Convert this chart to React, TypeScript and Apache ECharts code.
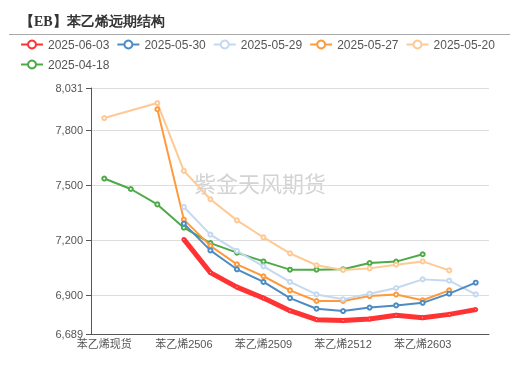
import React, { useEffect, useRef } from "react";
import * as echarts from "echarts";

const categories = [
  "苯乙烯现货", "苯乙烯2504", "苯乙烯2505", "苯乙烯2506", "苯乙烯2507", "苯乙烯2508",
  "苯乙烯2509", "苯乙烯2510", "苯乙烯2511", "苯乙烯2512", "苯乙烯2601", "苯乙烯2602",
  "苯乙烯2603", "苯乙烯2604", "苯乙烯2605",
];

const seriesNames = ["2025-06-03", "2025-05-30", "2025-05-29", "2025-05-27", "2025-05-20", "2025-04-18"];

const d0603 = [null, null, null, 7205, 7024, 6945, 6885, 6816, 6767, 6762, 6771, 6791, 6778, 6796, 6822];
const d0530 = [null, null, null, 7291, 7145, 7042, 6973, 6885, 6827, 6814, 6833, 6845, 6859, 6909, 6969];
const d0529 = [null, null, null, 7382, 7231, 7142, 7058, 6973, 6905, 6878, 6909, 6940, 6987, 6980, 6905];
const d0527 = [null, null, 7915, 7313, 7170, 7069, 7004, 6927, 6869, 6869, 6896, 6904, 6873, 6927, null];
const d0520 = [7867, null, 7949, 7579, 7424, 7309, 7216, 7129, 7064, 7038, 7047, 7067, 7085, 7036, null];
const d0418 = [7537, 7480, 7396, 7269, 7185, 7133, 7085, 7040, 7040, 7042, 7076, 7084, 7124, null, null];

const seriesData = [d0603, d0530, d0529, d0527, d0520, d0418];
const colors = ["#FF3333", "#4C8BC4", "#C4D8F0", "#FF9A3C", "#FFC994", "#4DAA48"];
const lineWidths = [5, 2, 2, 2, 2, 2];

const yMin = 6689;
const yMax = 8031;

const sans = "'Liberation Sans', 'Noto Sans CJK SC', sans-serif";

export default function App() {
  const ref = useRef<HTMLDivElement>(null);
  useEffect(() => {
    if (!ref.current) return;
    const chart = echarts.init(ref.current, null, { renderer: "svg" });
    const series = seriesNames.map((name, i) => ({
      name,
      type: "line",
      data: seriesData[i],
      connectNulls: true,
      symbol: "emptyCircle",
      symbolSize: i === 0 ? 3 : 4,
      z: i === 0 ? 10 : 2 + (5 - i) * 0.1,
      lineStyle: { width: lineWidths[i], color: colors[i] },
      itemStyle: { color: colors[i], borderWidth: 1 },
    }));
    chart.setOption({
      animation: false,
      color: colors,
      textStyle: { fontFamily: sans },
      title: {
        text: "【EB】苯乙烯远期结构",
        left: 15,
        top: 9,
        textStyle: { fontSize: 14, fontWeight: "bold", color: "#333", fontFamily: "serif" },
      },
      graphic: [
        {
          type: "line",
          shape: { x1: 9, y1: 34.5, x2: 510, y2: 34.5 },
          style: { stroke: "#aaa", lineWidth: 1 },
        },
        {
          type: "text",
          left: "center",
          top: 171,
          z: -1,
          style: {
            text: "紫金天风期货",
            fontSize: 22,
            fill: "rgba(150,150,150,0.42)",
            fontFamily: "Noto Sans CJK SC",
          },
        },
      ],
      legend: {
        data: seriesNames,
        left: 15,
        right: 10,
        top: 33,
        itemWidth: 22,
        itemHeight: 10,
        itemGap: 7,
        textStyle: { fontSize: 12, color: "#555", lineHeight: 13, fontFamily: sans },
      },
      grid: { left: 91, right: 31, top: 88, bottom: 52 },
      xAxis: {
        type: "category",
        data: categories,
        boundaryGap: true,
        axisLine: { lineStyle: { color: "#555" } },
        axisTick: { alignWithLabel: true, interval: 2, lineStyle: { color: "#555" } },
        axisLabel: { interval: 2, fontSize: 11, color: "#555", margin: 4, fontFamily: sans },
      },
      yAxis: {
        type: "value",
        min: yMin,
        max: yMax,
        splitNumber: 5,
        axisLine: { show: true, lineStyle: { color: "#555" } },
        axisTick: { show: true, length: 5, lineStyle: { color: "#555" } },
        axisLabel: { fontSize: 11, color: "#555", margin: 8, fontFamily: sans },
        splitLine: { lineStyle: { color: "#ddd" } },
      },
      series,
    });
    return () => chart.dispose();
  }, []);
  return <div ref={ref} style={{ position: "fixed", left: 0, top: 0, width: 520, height: 386 }} />;
}
